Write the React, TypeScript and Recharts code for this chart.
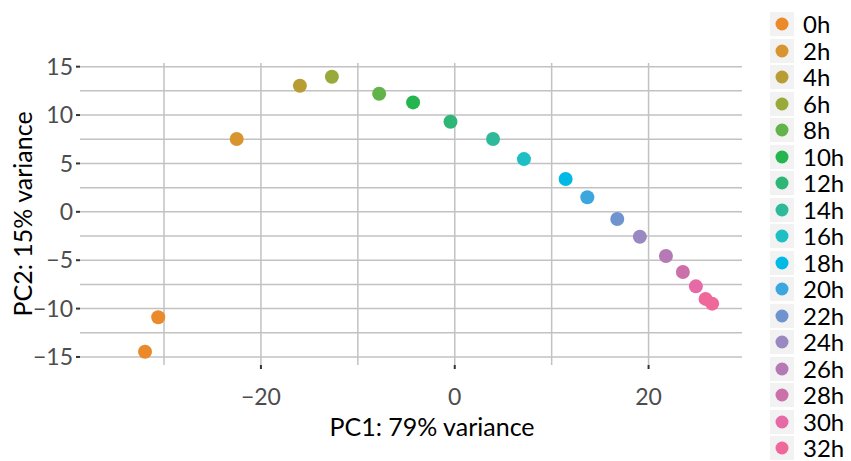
import {
  Label,
  Legend,
  ReferenceLine,
  Scatter,
  ScatterChart,
  XAxis,
  YAxis,
} from 'recharts'

const FONT = 'Lato, "Open Sans", sans-serif'

// time points shown in the legend, in order
const timePoints = ['0h', '2h', '4h', '6h', '8h', '10h', '12h', '14h', '16h', '18h', '20h', '22h', '24h', '26h', '28h', '30h', '32h']
const timeColors = [
  '#EB8A2B', '#D8952F', '#B89D35', '#9AAA3A', '#62B34A', '#25B54E', '#2DB676', '#2EB99A', '#1EBFC4',
  '#00B9E5', '#3CA6DF', '#6E93CF', '#9A88C2', '#B57AB5', '#CC70AA', '#E56AA6', '#F0689A',
]

// one entry per sample
const sampleTime = ['0h', '0h', '2h', '4h', '6h', '8h', '10h', '12h', '14h', '16h', '18h', '20h', '22h', '24h', '26h', '28h', '30h', '32h', '32h']
const pc1 = [-31.96, -30.6, -22.5, -15.98, -12.68, -7.8, -4.3, -0.44, 3.95, 7.14, 11.44, 13.68, 16.77, 19.1, 21.79, 23.54, 24.88, 25.88, 26.56]
const pc2 = [-14.46, -10.9, 7.52, 13.03, 13.96, 12.2, 11.31, 9.31, 7.52, 5.45, 3.39, 1.5, -0.74, -2.57, -4.57, -6.22, -7.7, -9.0, -9.49]

const xTicks = [-20, 0, 20]
const yTicks = [-15, -10, -5, 0, 5, 10, 15]
const xGrid = [-30, -20, -10, 0, 10, 20]
const yGrid = [-15, -12.5, -10, -7.5, -5, -2.5, 0, 2.5, 5, 7.5, 10, 12.5, 15]

const fmt = (v: number) => (v < 0 ? `\u2212${Math.abs(v)}` : `${v}`)

const GRID = '#C2C2C2'

function LegendBox({ payload }: any) {
  // keep the legend in time order rather than alphabetical
  const items = [...(payload || [])].sort(
    (a: any, b: any) => timePoints.indexOf(a.value) - timePoints.indexOf(b.value),
  )
  return (
    <div style={{ fontFamily: FONT }}>
      {items.map((p: any, i: number) => (
        <div
          key={p.value}
          style={{ display: 'flex', alignItems: 'center', height: 24, marginBottom: i === items.length - 1 ? 0 : 2.5 }}
        >
          <svg width={24} height={24} style={{ background: '#F2F2F2', display: 'block' }}>
            <circle cx={12} cy={12} r={6.5} fill={p.color} />
          </svg>
          <span style={{ marginLeft: 9, fontSize: 24, lineHeight: '20px', color: '#000', whiteSpace: 'nowrap' }}>
            {p.value}
          </span>
        </div>
      ))}
    </div>
  )
}

export default function App() {
  const groups = timePoints.map((t, i) => ({
    name: t,
    color: timeColors[i],
    points: sampleTime
      .map((s, j) => ({ s, x: pc1[j], y: pc2[j] }))
      .filter((d) => d.s === t),
  }))

  return (
    <div style={{ position: 'absolute', left: 0, top: 0 }}>
      <ScatterChart width={851} height={461} margin={{ top: 63, right: 109, bottom: 16, left: 10 }}>
        {yGrid.map((v) => (
          <ReferenceLine key={`h${v}`} y={v} stroke={GRID} strokeWidth={1.5} />
        ))}
        {xGrid.map((v) => (
          <ReferenceLine key={`v${v}`} x={v} stroke={GRID} strokeWidth={1.5} />
        ))}
        <XAxis
          type="number"
          dataKey="x"
          domain={[-38.67, 29.64]}
          allowDataOverflow
          ticks={xTicks}
          tickFormatter={fmt}
          axisLine={false}
          tickLine={{ stroke: '#333', strokeWidth: 2 }}
          tickSize={4}
          tickMargin={20}
          height={80}
          tick={{ fill: '#4D4D4D', fontSize: 23, fontFamily: FONT }}
        >
          <Label
            value="PC1: 79% variance"
            position="insideBottom"
            offset={9}
            dx={21}
            style={{ fill: '#000', fontSize: 25, fontFamily: FONT }}
          />
        </XAxis>
        <YAxis
          type="number"
          dataKey="y"
          domain={[-15.83, 15.38]}
          allowDataOverflow
          ticks={yTicks}
          tickFormatter={fmt}
          axisLine={false}
          tickLine={{ stroke: '#333', strokeWidth: 2 }}
          tickSize={4}
          tickMargin={3}
          width={70}
          tick={{ fill: '#4D4D4D', fontSize: 23, fontFamily: FONT }}
        >
          <Label
            content={({ viewBox }: any) => {
              const cx = viewBox.x + 22
              const cy = viewBox.y + viewBox.height / 2
              return (
                <text
                  x={cx}
                  y={cy}
                  transform={`rotate(-90 ${cx} ${cy})`}
                  textAnchor="middle"
                  fill="#000"
                  fontSize={25}
                  fontFamily={FONT}
                >
                  PC2: 15% variance
                </text>
              )
            }}
          />
        </YAxis>
        {groups.map((g) => (
          <Scatter
            key={g.name}
            name={g.name}
            data={g.points}
            fill={g.color}
            isAnimationActive={false}
            shape={(p: any) => <circle cx={p.cx} cy={p.cy} r={7} fill={g.color} />}
          />
        ))}
        <Legend
          layout="vertical"
          align="center"
          verticalAlign="middle"
          content={<LegendBox />}
          wrapperStyle={{ left: 770, top: 12, width: 81 }}
        />
      </ScatterChart>
    </div>
  )
}
